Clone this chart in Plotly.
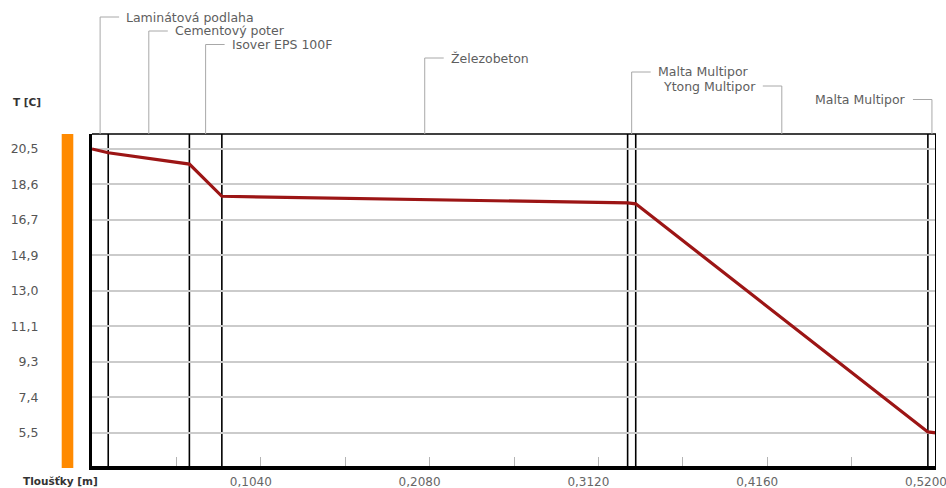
import plotly.graph_objects as go

# Wall / floor build-up (outer order left to right) and temperature profile
layer_names = [
    "Laminátová podlaha",
    "Cementový poter",
    "Isover EPS 100F",
    "Železobeton",
    "Malta Multipor",
    "Ytong Multipor",
    "Malta Multipor",
]
layer_thickness = [0.01, 0.05, 0.02, 0.25, 0.005, 0.18, 0.005]  # m
boundary_temps = [20.5, 20.3, 19.7, 18.0, 17.65, 17.6, 5.55, 5.5]  # °C at each interface

y_tick_values = [20.5, 18.625, 16.75, 14.875, 13.0, 11.125, 9.25, 7.375, 5.5]
y_tick_labels = ["20,5", "18,6", "16,7", "14,9", "13,0", "11,1", "9,3", "7,4", "5,5"]
x_tick_values = [0.104, 0.208, 0.312, 0.416, 0.52]
x_tick_labels = ["0,1040", "0,2080", "0,3120", "0,4160", "0,5200"]
x_minor_values = [0.052, 0.156, 0.26, 0.364, 0.468]

# label rows (pixels from top of page) and which side of the leader the text sits
label_rows_px = [17, 31, 44.5, 58, 72, 86, 99.5]
label_side = ["right", "right", "right", "right", "right", "left", "left"]

W, H = 946, 488
M_L, M_R, M_T, M_B = 92, 10, 134, 22
PLOT_H = H - M_T - M_B
PLOT_W = W - M_L - M_R


def paper_y(px):
    return (H - M_B - px) / PLOT_H


def paper_x(px):
    return (px - M_L) / PLOT_W


# interface positions
bounds = [0.0]
for t in layer_thickness:
    bounds.append(round(bounds[-1] + t, 6))
total = bounds[-1]

FONT = "DejaVu Sans"

fig = go.Figure()
fig.add_trace(go.Scatter(
    x=bounds, y=boundary_temps, mode="lines",
    line=dict(color="#9c1515", width=3.2),
    hoverinfo="skip", showlegend=False,
))

shapes = []
# orange temperature strip at the left
shapes.append(dict(type="rect", xref="paper", yref="paper",
                   x0=paper_x(61.7), x1=paper_x(73.3), y0=paper_y(468), y1=1,
                   fillcolor="#ff8a00", line=dict(width=0), layer="above"))
# top and right frame
shapes.append(dict(type="line", xref="paper", yref="paper", x0=0, x1=1, y0=1, y1=1,
                   line=dict(color="black", width=1.6), layer="above"))
shapes.append(dict(type="line", xref="x", yref="paper", x0=total, x1=total, y0=0, y1=1,
                   line=dict(color="black", width=2), layer="above"))
# layer interfaces
for b in bounds[1:-1]:
    shapes.append(dict(type="line", xref="x", yref="paper", x0=b, x1=b, y0=0, y1=1,
                       line=dict(color="black", width=1.6), layer="between"))

annotations = []
for i, name in enumerate(layer_names):
    mid = (bounds[i] + bounds[i + 1]) / 2
    yp = paper_y(label_rows_px[i])
    sign = 1 if label_side[i] == "right" else -1
    shapes.append(dict(type="line", xref="x", yref="paper", x0=mid, x1=mid, y0=1, y1=yp,
                       line=dict(color="#a8a8a8", width=1)))
    shapes.append(dict(type="line", xref="x", yref="paper", xsizemode="pixel", xanchor=mid,
                       x0=0, x1=sign * 19, y0=yp, y1=yp,
                       line=dict(color="#a8a8a8", width=1)))
    annotations.append(dict(
        xref="x", yref="paper", x=mid, y=yp, xshift=sign * 24,
        xanchor="left" if sign > 0 else "right", yanchor="middle",
        text=name, showarrow=False,
        font=dict(family=FONT, size=12.5, color="#5e5e5e"),
    ))

annotations.append(dict(xref="paper", yref="paper", x=paper_x(11), y=paper_y(102),
                        xanchor="left", yanchor="middle", text="<b>T [C]</b>", showarrow=False,
                        font=dict(family=FONT, size=10.5, color="#333333")))
annotations.append(dict(xref="paper", yref="paper", x=paper_x(21), y=paper_y(481),
                        xanchor="left", yanchor="middle", text="<b>Tloušťky [m]</b>",
                        showarrow=False,
                        font=dict(family=FONT, size=10.5, color="#333333")))

fig.update_layout(
    width=W, height=H,
    margin=dict(l=M_L, r=M_R, t=M_T, b=M_B, autoexpand=False),
    paper_bgcolor="white", plot_bgcolor="white",
    shapes=shapes, annotations=annotations,
    showlegend=False,
    xaxis=dict(
        range=[0, total], tickvals=x_tick_values, ticktext=x_tick_labels,
        ticks="inside", ticklen=9, tickwidth=1, tickcolor="#b4b4b4",
        minor=dict(tickvals=x_minor_values, ticks="inside", ticklen=9,
                   tickwidth=1, tickcolor="#b4b4b4", showgrid=False),
        showline=True, linecolor="black", linewidth=3.5,
        showgrid=False, zeroline=False, automargin=False,
        ticklabelshift=-10, ticklabeloverflow="allow", ticklabelstandoff=2,
        tickfont=dict(family=FONT, size=12, color="#666666"),
    ),
    yaxis=dict(
        range=[3.75, 21.29], tickvals=y_tick_values,
        ticktext=[s.rjust(4, "\u2007") for s in y_tick_labels],
        ticks="", showgrid=True, gridcolor="#cbcbcb", gridwidth=1.6,
        showline=True, linecolor="black", linewidth=3,
        zeroline=False, automargin=False,
        ticklabelstandoff=48,
        tickfont=dict(family=FONT, size=12.5, color="#555555"),
    ),
)

fig.write_html("out.html")
